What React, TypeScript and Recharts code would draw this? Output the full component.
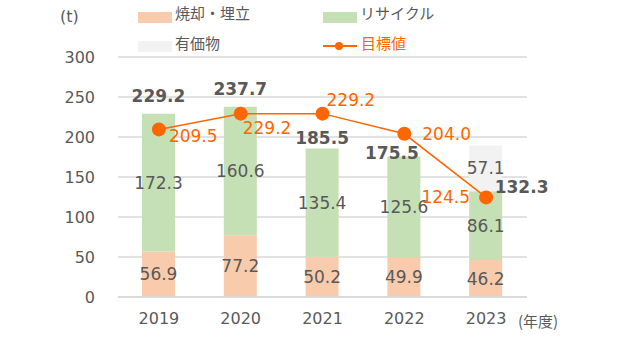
import React from 'react';
import { ComposedChart, Bar, Line, XAxis, YAxis, CartesianGrid, LabelList } from 'recharts';

const years = ['2019', '2020', '2021', '2022', '2023'];
const incineration = [56.9, 77.2, 50.2, 49.9, 46.2];
const recycle = [172.3, 160.6, 135.4, 125.6, 86.1];
const valuables = [null, null, null, null, 57.1];
const totals = [229.2, 237.7, 185.5, 175.5, 132.3];
const targets = [209.5, 229.2, 229.2, 204.0, 124.5];
const yTicks = [0, 50, 100, 150, 200, 250, 300];

const data = years.map((y, i) => ({
  year: y,
  incineration: incineration[i],
  recycle: recycle[i],
  valuables: valuables[i],
  total: totals[i],
  target: targets[i],
}));

const FONT = "'Noto Sans CJK JP', 'Noto Sans', sans-serif";
const NUM_FONT = "'DejaVu Sans', 'Noto Sans', sans-serif";
const GRAY = '#595959';
const ORANGE = '#FF6600';
const C_INC = '#F8CBAD';
const C_REC = '#C5E0B4';
const C_VAL = '#F2F2F2';

// target label placement relative to point (dx, dy, anchor)
const targetLabelPos: [number, number, 'start' | 'end'][] = [
  [10, 6, 'start'],
  [2, 14, 'start'],
  [4, -14, 'start'],
  [18, 0, 'start'],
  [-16, -1, 'end'],
];

// total label placement relative to top of the recycle segment (dx, dy, anchor)
const totalLabelPos: [number, number, 'middle' | 'start'][] = [
  [0, -17.5, 'middle'],
  [0, -18, 'middle'],
  [0, -11, 'middle'],
  [-12, -3.5, 'middle'],
  [9, -4, 'start'],
];

const TargetLabel = (props: any) => {
  const { x, y, value, index } = props;
  const [dx, dy, anchor] = targetLabelPos[index];
  return (
    <text x={x + dx} y={y + dy} dy="0.36em" textAnchor={anchor} fill={ORANGE} fontSize={17} fontFamily={NUM_FONT}>
      {Number(value).toFixed(1)}
    </text>
  );
};

const TotalLabel = (props: any) => {
  const { x, y, width, value, index } = props;
  const [dx, dy, anchor] = totalLabelPos[index];
  return (
    <text x={x + width / 2 + dx} y={y + dy} dy="0.36em" textAnchor={anchor} fill={GRAY} fontSize={17} fontWeight="bold" fontFamily={NUM_FONT}>
      {Number(value).toFixed(1)}
    </text>
  );
};

const SegLabel = (props: any) => {
  const { x, y, width, height, value } = props;
  if (value == null || value === 0) return null;
  return (
    <text x={x + width / 2} y={y + height / 2} dy="0.36em" textAnchor="middle" fill={GRAY} fontSize={17} fontFamily={NUM_FONT}>
      {Number(value).toFixed(1)}
    </text>
  );
};

const legendText: React.CSSProperties = {
  position: 'absolute',
  fontFamily: FONT,
  fontSize: 15,
  color: GRAY,
  lineHeight: '18px',
  whiteSpace: 'nowrap',
};

export default function App() {
  return (
    <div style={{ position: 'absolute', left: 0, top: 0, width: 630, height: 343, background: '#fff' }}>
      <ComposedChart width={630} height={343} data={data} margin={{ top: 57, right: 103, bottom: 16, left: 0 }}>
        <CartesianGrid vertical={false} stroke="#d9d9d9" strokeWidth={1.5} />
        <XAxis
          dataKey="year"
          height={30}
          axisLine={{ stroke: '#d9d9d9', strokeWidth: 1.5 }}
          tickLine={false}
          tickSize={0}
          tickMargin={16}
          tick={{ fill: GRAY, fontSize: 16, fontFamily: NUM_FONT }}
        />
        <YAxis
          width={118}
          domain={[0, 300]}
          ticks={yTicks}
          axisLine={false}
          tickLine={false}
          tickSize={0}
          tickMargin={23}
          tick={{ fill: GRAY, fontSize: 16, fontFamily: NUM_FONT }}
        />
        <Bar dataKey="incineration" stackId="a" fill={C_INC} barSize={33} isAnimationActive={false}>
          <LabelList dataKey="incineration" content={SegLabel} />
        </Bar>
        <Bar dataKey="recycle" stackId="a" fill={C_REC} barSize={33} isAnimationActive={false}>
          <LabelList dataKey="recycle" content={SegLabel} />
          <LabelList dataKey="total" content={TotalLabel} />
        </Bar>
        <Bar dataKey="valuables" stackId="a" fill={C_VAL} barSize={33} isAnimationActive={false}>
          <LabelList dataKey="valuables" content={SegLabel} />
        </Bar>
        <Line
          dataKey="target"
          stroke={ORANGE}
          strokeWidth={1.5}
          dot={{ r: 7, fill: ORANGE, stroke: 'none' }}
          activeDot={false}
          isAnimationActive={false}
        >
          <LabelList dataKey="target" content={TargetLabel} />
        </Line>
      </ComposedChart>

      <div style={{ ...legendText, left: 60, top: 8, fontSize: 16, fontFamily: NUM_FONT }}>(t)</div>

      <div style={{ position: 'absolute', left: 138, top: 12, width: 34, height: 11, background: C_INC }} />
      <div style={{ ...legendText, left: 175, top: 4 }}>焼却・埋立</div>
      <div style={{ position: 'absolute', left: 323, top: 12, width: 34, height: 11, background: C_REC }} />
      <div style={{ ...legendText, left: 360, top: 4 }}>リサイクル</div>
      <div style={{ position: 'absolute', left: 138, top: 41, width: 34, height: 11, background: C_VAL }} />
      <div style={{ ...legendText, left: 175, top: 34 }}>有価物</div>
      <div style={{ position: 'absolute', left: 323, top: 45, width: 34, height: 2, background: ORANGE }} />
      <div style={{ position: 'absolute', left: 335, top: 42, width: 8, height: 8, borderRadius: 4, background: ORANGE }} />
      <div style={{ ...legendText, left: 361, top: 34, color: ORANGE }}>目標値</div>

      <div style={{ ...legendText, left: 518, top: 312 }}>(年度)</div>
    </div>
  );
}
